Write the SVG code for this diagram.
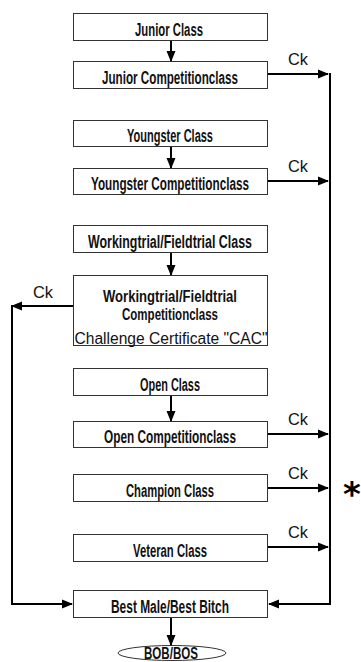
<svg xmlns="http://www.w3.org/2000/svg" width="361" height="662" viewBox="0 0 361 662">
<style>
.box{fill:#fff;stroke:#333;stroke-width:1}
.t{font-family:"Liberation Sans",Arial,sans-serif;font-weight:bold;font-size:18px;fill:#111;text-anchor:middle}
.t2{font-family:"Liberation Sans",Arial,sans-serif;font-weight:bold;font-size:16px;fill:#111;text-anchor:middle}
.r{font-family:"Liberation Sans",Arial,sans-serif;font-size:16px;fill:#111}
.ck{font-family:"Liberation Sans",Arial,sans-serif;font-size:16px;fill:#111}
.c{fill:none;stroke:#000;stroke-width:2}
</style>
<defs>
<marker id="ah" markerUnits="userSpaceOnUse" markerWidth="11" markerHeight="11" viewBox="0 0 11 11" refX="10" refY="5.5" orient="auto">
<path d="M0,1 L11,5.5 L0,10 Z" fill="#000"/>
</marker>
</defs>
<rect width="361" height="662" fill="#fff"/>
<g id="connectors">
<line class="c" x1="171" y1="40" x2="171" y2="61" marker-end="url(#ah)"/>
<line class="c" x1="171" y1="147" x2="171" y2="168" marker-end="url(#ah)"/>
<line class="c" x1="171" y1="252" x2="171" y2="275" marker-end="url(#ah)"/>
<line class="c" x1="171" y1="395" x2="171" y2="421" marker-end="url(#ah)"/>
<line class="c" x1="171" y1="617" x2="171" y2="645" marker-end="url(#ah)"/>
<line class="c" x1="268" y1="74" x2="328" y2="74" marker-end="url(#ah)"/>
<line class="c" x1="268" y1="181" x2="328" y2="181" marker-end="url(#ah)"/>
<line class="c" x1="268" y1="434" x2="328" y2="434" marker-end="url(#ah)"/>
<line class="c" x1="268" y1="488" x2="328" y2="488" marker-end="url(#ah)"/>
<line class="c" x1="268" y1="547" x2="328" y2="547" marker-end="url(#ah)"/>
<polyline class="c" points="330,73 330,604 269,604" marker-end="url(#ah)"/>
<line class="c" x1="73" y1="306" x2="12" y2="306" marker-end="url(#ah)"/>
<polyline class="c" points="12,305 12,604 72,604" marker-end="url(#ah)"/>
<text class="ck" x="288" y="65" textLength="20" lengthAdjust="spacingAndGlyphs">Ck</text>
<text class="ck" x="288" y="172" textLength="20" lengthAdjust="spacingAndGlyphs">Ck</text>
<text class="ck" x="33" y="298" textLength="20" lengthAdjust="spacingAndGlyphs">Ck</text>
<text class="ck" x="288" y="425" textLength="20" lengthAdjust="spacingAndGlyphs">Ck</text>
<text class="ck" x="288" y="479" textLength="20" lengthAdjust="spacingAndGlyphs">Ck</text>
<text class="ck" x="288" y="538" textLength="20" lengthAdjust="spacingAndGlyphs">Ck</text>
</g>
<g id="junior-class"><rect class="box" x="73.5" y="13.5" width="194" height="27"/><text class="t" x="169" y="35.5" textLength="68" lengthAdjust="spacingAndGlyphs">Junior Class</text></g>
<g id="junior-comp"><rect class="box" x="73.5" y="61.5" width="194" height="27"/><text class="t" x="170" y="83.5" textLength="136" lengthAdjust="spacingAndGlyphs">Junior Competitionclass</text></g>
<g id="youngster-class"><rect class="box" x="73.5" y="120.5" width="194" height="26"/><text class="t" x="170" y="142" textLength="86" lengthAdjust="spacingAndGlyphs">Youngster Class</text></g>
<g id="youngster-comp"><rect class="box" x="73.5" y="168.5" width="194" height="26"/><text class="t" x="170" y="190" textLength="158" lengthAdjust="spacingAndGlyphs">Youngster Competitionclass</text></g>
<g id="wt-class"><rect class="box" x="73.5" y="225.5" width="194" height="27"/><text class="t" x="170" y="247.5" textLength="164" lengthAdjust="spacingAndGlyphs">Workingtrial/Fieldtrial Class</text></g>
<g id="wt-comp"><rect class="box" x="73.5" y="275.5" width="194" height="70"/>
<text class="t2" x="170" y="302" textLength="134" lengthAdjust="spacingAndGlyphs">Workingtrial/Fieldtrial</text>
<text class="t2" x="170" y="320" textLength="96" lengthAdjust="spacingAndGlyphs">Competitionclass</text>
<text class="r" x="74.5" y="344" textLength="193" lengthAdjust="spacingAndGlyphs">Challenge Certificate "CAC"</text></g>
<g id="open-class"><rect class="box" x="73.5" y="368.5" width="194" height="27"/><text class="t" x="170" y="390.5" textLength="60" lengthAdjust="spacingAndGlyphs">Open Class</text></g>
<g id="open-comp"><rect class="box" x="73.5" y="421.5" width="194" height="26"/><text class="t" x="170" y="443" textLength="132" lengthAdjust="spacingAndGlyphs">Open Competitionclass</text></g>
<g id="champion"><rect class="box" x="73.5" y="474.5" width="194" height="27"/><text class="t" x="170" y="496.5" textLength="88" lengthAdjust="spacingAndGlyphs">Champion Class</text></g>
<g id="veteran"><rect class="box" x="73.5" y="534.5" width="194" height="27"/><text class="t" x="170" y="556.5" textLength="74" lengthAdjust="spacingAndGlyphs">Veteran Class</text></g>
<g id="best"><rect class="box" x="73.5" y="590.5" width="194" height="27"/><text class="t" x="170" y="612.5" textLength="118" lengthAdjust="spacingAndGlyphs">Best Male/Best Bitch</text></g>
<g id="bob"><ellipse cx="172" cy="653" rx="54" ry="7.5" fill="#fff" stroke="#333" stroke-width="1"/><text class="t2" x="171" y="659" textLength="54" lengthAdjust="spacingAndGlyphs">BOB/BOS</text></g>
<g id="star"><text x="352" y="506" font-family="DejaVu Sans,sans-serif" font-weight="bold" font-size="34" text-anchor="middle" fill="#000">*</text></g>
</svg>
